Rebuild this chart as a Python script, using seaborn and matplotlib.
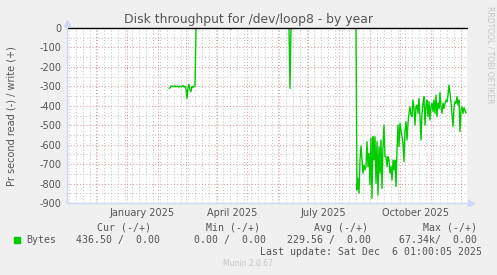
import numpy as np
import pandas as pd
import matplotlib
matplotlib.use("Agg")
import matplotlib.pyplot as plt
import matplotlib.dates as mdates
import matplotlib.transforms as mtransforms
import seaborn as sns

# ---------------- data ----------------
title = "Disk throughput for /dev/loop8 - by year"
y_label = "Pr second read (-) / write (+)"

# first active stretch, daily read bytes/s from 2025-02-12
seg_a_start = "2025-02-12"
seg_a_read = [310, 308, 300, 297, 302, 300, 298, 303, 301, 300, 304, 299, 302, 300,
              296, 303, 300, 315, 362, 305, 290, 318, 327, 300, 305, 300, 298]

# isolated points (date, read bytes/s)
mid_dates = ["2025-03-11", "2025-04-14", "2025-04-15", "2025-04-16",
             "2025-06-12", "2025-06-13", "2025-06-14", "2025-08-18"]
mid_read = [0, 0, 6, 0, 0, 310, 0, 0]

# second active stretch, daily read bytes/s from 2025-08-19
seg_b_start = "2025-08-19"
seg_b_read = [833, 773, 850, 679, 607, 679, 747, 705, 730, 710, 585, 713, 645, 807,
              567, 876, 559, 679, 559, 799, 585, 859, 610, 747, 576, 825, 610, 499,
              662, 662, 713, 662, 679, 747, 713, 782, 679, 730, 679, 816, 627, 499,
              610, 490, 525, 559, 593, 687, 525, 482, 576, 490, 439, 405, 447, 456,
              370, 413, 499, 405, 396, 439, 362, 456, 576, 439, 387, 353, 499, 396,
              370, 456, 379, 473, 405, 387, 430, 370, 439, 345, 456, 387, 413, 331,
              405, 439, 387, 413, 387, 370, 379, 345, 293, 336, 379, 447, 507, 405,
              379, 387, 353, 396, 370, 533, 422, 405, 439, 410, 425, 437]

x_start, x_end = "2024-11-02", "2025-12-07"
y_ticks = [0, -100, -200, -300, -400, -500, -600, -700, -800, -900]
month_labels = ["January 2025", "April 2025", "July 2025", "October 2025"]
month_label_dates = ["2025-01-16", "2025-04-16", "2025-07-16", "2025-10-16"]

legend_headers = ["Cur (-/+)", "Min (-/+)", "Avg (-/+)", "Max (-/+)"]
legend_values = ["436.50 /  0.00", "0.00 /  0.00", "229.56 /  0.00", "67.34k/  0.00"]
series_name = "Bytes"
last_update = "Last update: Sat Dec  6 01:00:05 2025"
munin_version = "Munin 2.0.67"
rrd_credit = "RRDTOOL / TOBI OETIKER"

# ---------------- build table ----------------
dates = (list(pd.date_range(seg_a_start, periods=len(seg_a_read), freq="D"))
         + list(pd.to_datetime(mid_dates))
         + list(pd.date_range(seg_b_start, periods=len(seg_b_read), freq="D")))
reads = seg_a_read + mid_read + seg_b_read
df = pd.DataFrame({"date": dates, "value": [-v for v in reads]})

# ---------------- figure ----------------
sns.set_style("white")
plt.rcParams["font.family"] = ["DejaVu Sans"]
W, H = 497, 275
fig = plt.figure(figsize=(W / 100, H / 100), dpi=100, facecolor="#F0F0F0")
L, R, T, B = 67, 467, 28, 203
ax = fig.add_axes([L / W, 1 - B / H, (R - L) / W, (B - T) / H])
ax.set_facecolor("white")

MGRID = "#DE9C9C"
GRID = "#C6C6C6"
FONT = "#555555"
AXIS = "#CFD6F8"

sns.lineplot(data=df, x="date", y="value", ax=ax, color="#00CC00", lw=1.0,
             estimator=None, sort=False, zorder=3)

ax.set_xlim(pd.Timestamp(x_start), pd.Timestamp(x_end))
ax.set_ylim(-900, 0)

ax.xaxis.set_major_locator(mdates.MonthLocator())
ax.xaxis.set_minor_locator(mdates.WeekdayLocator(byweekday=mdates.MO))
ax.xaxis.set_major_formatter(plt.NullFormatter())
ax.set_yticks(y_ticks)
ax.set_yticks(np.arange(-850, 0, 100), minor=True)
ax.set_yticklabels([str(v) for v in y_ticks])

ax.grid(which="major", color=MGRID, lw=0.75, ls=(0, (1, 2)))
ax.grid(which="minor", color=GRID, lw=0.75, ls=(0, (1, 2)))
ax.set_axisbelow(True)

ax.tick_params(axis="both", which="major", length=2, width=0.8, color=MGRID,
               labelcolor=FONT, labelsize=7, pad=2)
ax.tick_params(axis="both", which="minor", length=2, width=0.8, color=GRID)
ax.set_xlabel("")
ax.set_ylabel("")
for s in ax.spines.values():
    s.set_visible(False)

# zero rule
ax.axhline(0, color="black", lw=1.0, zorder=4, clip_on=False)

# axes with arrows
ax.plot([0, 0], [0, 1 + 6 / 175], transform=ax.transAxes, color=AXIS, lw=1,
        clip_on=False, zorder=5)
ax.plot([0], [1 + 5 / 175], transform=ax.transAxes, marker="^", ms=5, color=AXIS,
        clip_on=False, zorder=5, mec=AXIS)
ax.plot([0, 1 + 5 / 400], [0, 0], transform=ax.transAxes, color=AXIS, lw=1,
        clip_on=False, zorder=5)
ax.plot([1 + 4 / 400], [0], transform=ax.transAxes, marker=">", ms=5, color=AXIS,
        clip_on=False, zorder=5, mec=AXIS)

# month labels
trans = mtransforms.blended_transform_factory(ax.transData, ax.transAxes)
for lab, d in zip(month_labels, month_label_dates):
    ax.text(mdates.date2num(pd.Timestamp(d)), -10 / 175, lab, transform=trans,
            ha="center", va="center", fontsize=7, color=FONT)


def ftext(xp, yp, s, **kw):
    fig.text(xp / W, 1 - yp / H, s, **kw)


ftext(249, 19, title, ha="center", va="center", fontsize=8.9, color=FONT)
ftext(12, 116, y_label, ha="center", va="center", rotation=90, fontsize=7, color=FONT)
ftext(490, 55, rrd_credit, ha="center", va="center", rotation=270, fontsize=5.5,
      color="#C4C4C4")

mono = dict(family="DejaVu Sans Mono", fontsize=7.1, color=FONT, va="center")
for txt, xr in zip(legend_headers, [151, 260, 368, 477]):
    ftext(xr, 228, txt, ha="right", **mono)
fig.patches.append(plt.Rectangle((14 / W, 1 - 242.5 / H), 5.5 / W, 5.5 / H,
                                 transform=fig.transFigure, color="#00CC00"))
ftext(26, 240, series_name, ha="left", **mono)
for txt, xr in zip(legend_values, [160, 266, 371, 477]):
    ftext(xr, 240, txt, ha="right", **mono)
ftext(482, 252, last_update, ha="right", **mono)
ftext(248, 264, munin_version, ha="center", va="center", fontsize=5.5, color="#C4C4C4")

fig.savefig("out.png", dpi=100, facecolor=fig.get_facecolor())
